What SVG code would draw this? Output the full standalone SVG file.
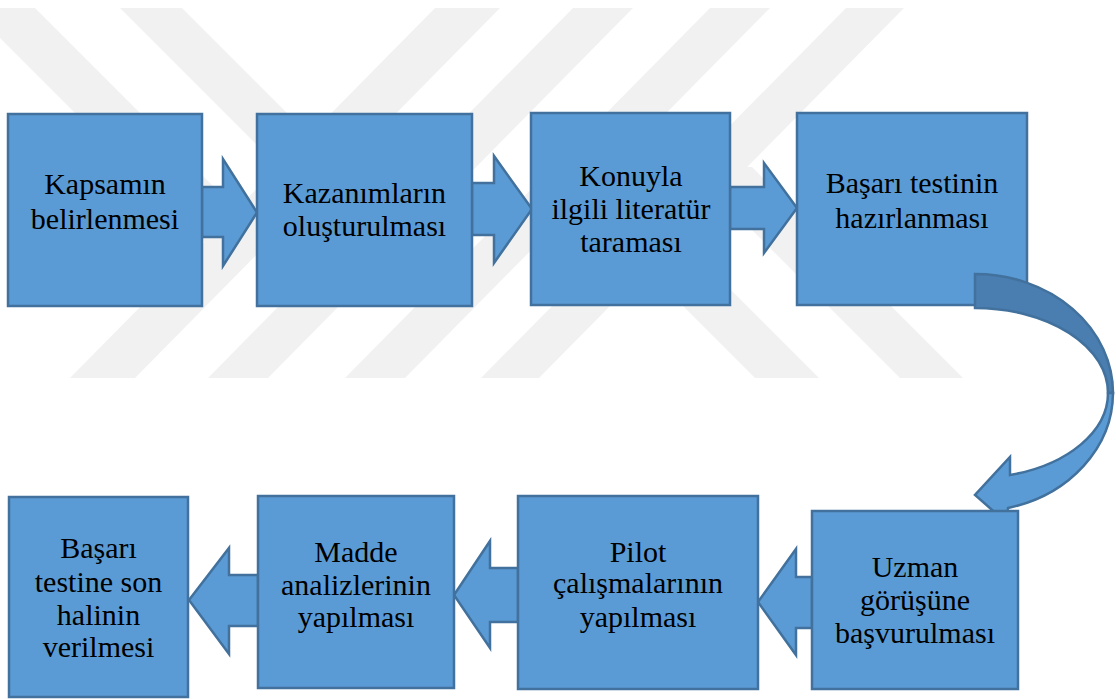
<svg xmlns="http://www.w3.org/2000/svg" width="1116" height="699" viewBox="0 0 1116 699">
<style>
.wm{fill:#F1F1F1;stroke:none}
.box{fill:#5B9BD5;stroke:#41719C;stroke-width:2.5}
.arr{fill:#5B9BD5;stroke:#41719C;stroke-width:2.5;stroke-linejoin:miter}
.dark{fill:#4A7DB0;stroke:#41719C;stroke-width:2.5}
.t{font-family:"Liberation Serif","Times New Roman",serif;font-size:30px;fill:#000;text-anchor:middle}
</style>
<rect width="1116" height="699" fill="#FFFFFF"/>
<g id="watermark">
<polygon class="wm" points="435,8 500,8 135,378 70,378"/>
<polygon class="wm" points="573,8 633,8 268,378 208,378"/>
<polygon class="wm" points="710,8 770,8 405,378 345,378"/>
<polygon class="wm" points="846,8 904,8 539,378 481,378"/>
<polygon class="wm" points="-30,8 35,8 269,242 204,242"/>
<polygon class="wm" points="120,8 182,8 410,236 348,236"/>
<polygon class="wm" points="548,171 612,171 819,378 755,378"/>
<polygon class="wm" points="689,167 752,167 963,378 900,378"/>
</g>
<g id="connectors">
<polygon class="arr" points="202,187 223,187 223,159 257,212.5 223,266 223,237 202,237"/>
<polygon class="arr" points="472,183 494,183 494,156 532,209 494,263 494,235 472,235"/>
<polygon class="arr" points="730,187 764,187 764,163 797,208 764,253 764,229 730,229"/>
<polygon class="arr" points="812,577 796,577 796,549 758,602 796,655 796,628 812,628"/>
<polygon class="arr" points="518,568 490,568 490,541 454,595 490,648 490,622 518,622"/>
<polygon class="arr" points="258,575 229,575 229,548 189,600 229,654 229,626 258,626"/>
</g>
<g id="n1"><rect class="box" x="8" y="114" width="194" height="192"/>
<text class="t" x="105" y="194">Kapsamın</text><text class="t" x="105" y="229">belirlenmesi</text></g>
<g id="n2"><rect class="box" x="257" y="114" width="215" height="192"/>
<text class="t" x="364.5" y="203">Kazanımların</text><text class="t" x="364.5" y="236">oluşturulması</text></g>
<g id="n3"><rect class="box" x="531" y="113" width="199" height="192"/>
<text class="t" x="631" y="186">Konuyla</text><text class="t" x="631" y="219">ilgili literatür</text><text class="t" x="631" y="252">taraması</text></g>
<g id="n4"><rect class="box" x="797" y="113" width="230" height="192"/>
<text class="t" x="912" y="193">Başarı testinin</text><text class="t" x="912" y="228">hazırlanması</text></g>
<g id="curved-arrow">
<path class="dark" d="M975,274 A138,119 0 0 1 1113,393 L1108,393 A133,85 0 0 0 975,308 Z"/>
<path class="arr" d="M1113,393 A138,119 0 0 1 1008,508 L1007,523 L975,495 L1010,457 L1010,475 A133,85 0 0 0 1108,393 Z"/>
</g>
<g id="n8"><rect class="box" x="812" y="511" width="206" height="178"/>
<text class="t" x="915" y="577">Uzman</text><text class="t" x="915" y="610">görüşüne</text><text class="t" x="915" y="643">başvurulması</text></g>
<g id="n7"><rect class="box" x="518" y="496" width="240" height="193"/>
<text class="t" x="638" y="562">Pilot</text><text class="t" x="638" y="593">çalışmalarının</text><text class="t" x="638" y="627">yapılması</text></g>
<g id="n6"><rect class="box" x="258" y="496" width="196" height="192"/>
<text class="t" x="356" y="562">Madde</text><text class="t" x="356" y="595">analizlerinin</text><text class="t" x="356" y="627">yapılması</text></g>
<g id="n5"><rect class="box" x="9" y="497" width="179" height="200"/>
<text class="t" x="98.5" y="558">Başarı</text><text class="t" x="98.5" y="592">testine son</text><text class="t" x="98.5" y="625">halinin</text><text class="t" x="98.5" y="657">verilmesi</text></g>
</svg>
